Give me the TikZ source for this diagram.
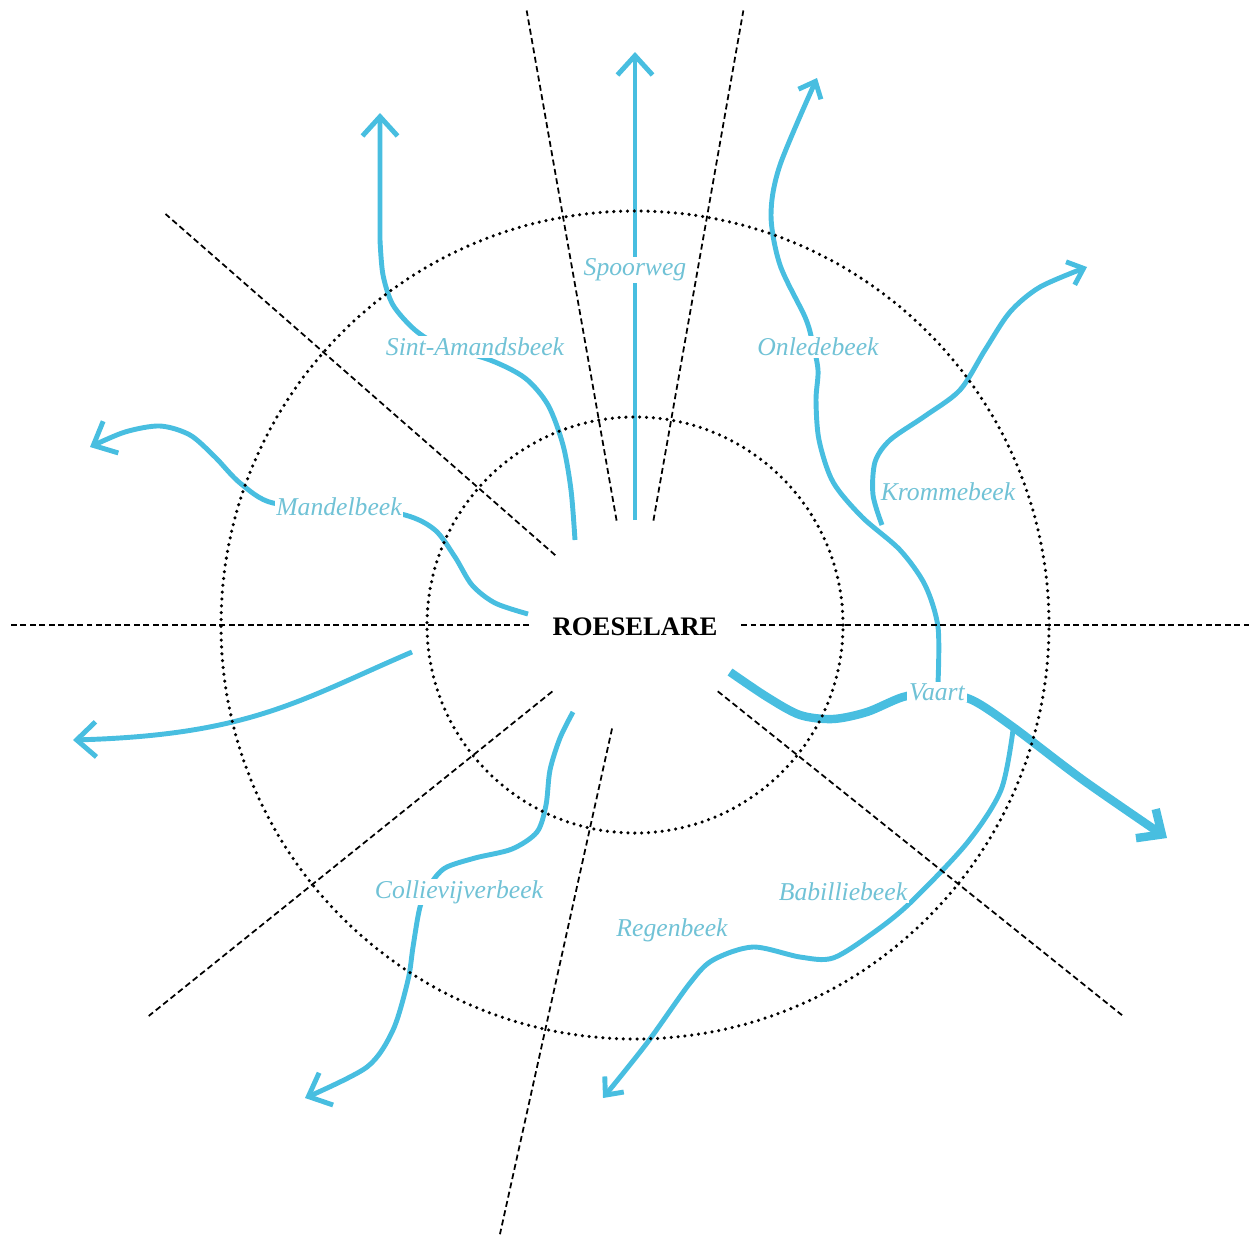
\documentclass[tikz,border=0pt]{standalone}
\usepackage{fontspec}
\setmainfont{Liberation Serif}
\usepackage{xcolor}
\usepackage{tikz}
\usetikzlibrary{arrows.meta}
\definecolor{rivier}{RGB}{72,190,224}
\definecolor{rivtekst}{RGB}{112,194,214}

\begin{document}
\begin{tikzpicture}[x=0.2mm, y=-0.2mm,
  beek/.style={rivier, line width=2.8pt},
  vaartlijn/.style={rivier, line width=4.8pt},
  pijl/.style={-{Straight Barb[length=11pt,width=20pt]}},
  kleinpijl/.style={-{Straight Barb[length=8pt,width=14pt]}},
  naam/.style={fill=white, inner sep=1pt, text=rivtekst, font=\fontsize{14.6}{17}\selectfont\itshape},
  ring/.style={line width=2pt, dash pattern=on 0pt off 3.9pt, line cap=round},
  straal/.style={line width=1pt, dash pattern=on 3.4pt off 2pt}]
\useasboundingbox (0,0) rectangle (1249,1234);
\coordinate (mid) at (635,625);
\node[font=\fontsize{15.2}{17}\selectfont\bfseries] (stad) at (635,627) {ROESELARE};

% waterlopen
\draw[beek, pijl] (635,520) -- (635,52);
\draw[beek, pijl] plot[smooth] coordinates {(575,540) (571,490) (563,445) (548,405) (525,378) (490,360) (440,345) (415,330) (393,305) (383,275) (380,240)} -- (380,113);
\draw[beek, pijl] plot[smooth] coordinates {(528,614) (495,603) (472,585) (455,557) (435,530) (405,515) (340,505) (273,503) (240,483) (215,457) (190,435) (160,426) (125,432) (90,447)};
\draw[beek, pijl] (412,652) .. controls (300,700) and (250,735) .. (73,740);
\draw[beek, pijl] plot[smooth] coordinates {(573,712) (560,738) (550,770) (546,805) (537,832) (512,849) (475,858) (445,868) (430,885) (420,907) (413,947) (408,980) (393,1030) (367,1067) (305,1098)};
\draw[beek, kleinpijl] plot[smooth] coordinates {(938,683) (938,627) (925,585) (900,550) (862,517) (833,482) (819,440) (816,400) (818,370) (812,340) (805,317) (780,265) (771,215) (780,165) (817,78)};
\draw[beek, kleinpijl] plot[smooth] coordinates {(882,525) (873,495) (875,462) (890,440) (925,416) (960,390) (985,350) (1010,312) (1040,287) (1087,267)};
\draw[beek, kleinpijl] plot[smooth] coordinates {(1013,730) (1001,790) (967,843) (910,903) (873,933) (833,958) (800,957) (753,947) (713,960) (690,983) (647,1043) (603,1098)};
\draw[vaartlijn, pijl] plot[smooth] coordinates {(730,672) (767,697) (800,715) (833,719) (867,712) (903,697) (937,692) (972,700) (1013,727) (1083,780) (1167,838)};

% ringen en stralen
\draw[ring] (mid) circle[radius=41.6mm];
\draw[ring] (mid) circle[radius=82.8mm];
\foreach \a in {0,80,100,138.8,180,218.8,257.5,321.3}
  \draw[straal, shift={(635,625)}] (-\a:106) -- (-\a:624);

\node[naam] (spoorweg) at (635,270) {Spoorweg};
\node[naam] (amands) at (475,347) {Sint-Amandsbeek};
\node[naam] (mandel) at (339,507) {Mandelbeek};
\node[naam] (onlede) at (818,347) {Onledebeek};
\node[naam] (kromme) at (948,492) {Krommebeek};
\node[naam] (vaart) at (937,692) {Vaart};
\node[naam] (collie) at (459,892) {Collievijverbeek};
\node[naam] (regen) at (672,930) {Regenbeek};
\node[naam] (babil) at (843,892) {Babilliebeek};
\end{tikzpicture}
\end{document}
